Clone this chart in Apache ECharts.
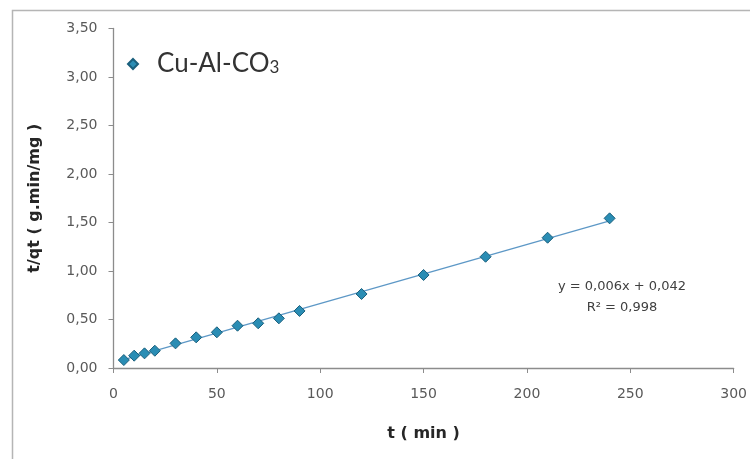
<!DOCTYPE html>
<html>
<head>
<meta charset="utf-8">
<script src="https://cdn.jsdelivr.net/npm/echarts@6/dist/echarts.min.js"></script>
<style>
  html, body { margin: 0; padding: 0; background: #fff; }
  #chart { width: 750px; height: 459px; }
</style>
</head>
<body>
<div id="chart"></div>
<script>
// Pseudo-second-order kinetics: t/qt versus contact time t
const seriesName = 'Cu-Al-CO';
const timeMin = [5, 10, 15, 20, 30, 40, 50, 60, 70, 80, 90, 120, 150, 180, 210, 240];
const tOverQt = [0.082, 0.127, 0.151, 0.178, 0.254, 0.316, 0.368, 0.436, 0.461, 0.512, 0.588, 0.763, 0.959, 1.147, 1.343, 1.543];
const xTicks = [0, 50, 100, 150, 200, 250, 300];
const yTicks = [0, 0.5, 1.0, 1.5, 2.0, 2.5, 3.0, 3.5];
const equationLines = ['y = 0,006x + 0,042', 'R² = 0,998'];

// least-squares trendline over the measured points
function linearFit(xs, ys) {
  const n = xs.length;
  let sx = 0, sy = 0, sxx = 0, sxy = 0;
  for (let i = 0; i < n; i++) { sx += xs[i]; sy += ys[i]; sxx += xs[i] * xs[i]; sxy += xs[i] * ys[i]; }
  const slope = (n * sxy - sx * sy) / (n * sxx - sx * sx);
  return { slope, intercept: (sy - slope * sx) / n };
}
const fit = linearFit(timeMin, tOverQt);
const tMin = Math.min(...timeMin), tMax = Math.max(...timeMin);
const trend = [[tMin, fit.intercept + fit.slope * tMin], [tMax, fit.intercept + fit.slope * tMax]];

const TICK_FONT = '"DejaVu Sans", sans-serif';
const chart = echarts.init(document.getElementById('chart'));
chart.setOption({
  animation: false,
  backgroundColor: '#fff',
  grid: { left: 113.5, right: 14, top: 28.5, bottom: 91, containLabel: false },
  xAxis: {
    type: 'value', min: xTicks[0], max: xTicks[xTicks.length - 1], interval: 50,
    name: 't ( min )', nameLocation: 'middle', nameGap: 58,
    nameTextStyle: { fontFamily: TICK_FONT, fontWeight: 'bold', fontSize: 16, color: '#262626' },
    axisLine: { lineStyle: { color: '#8c8c8c', width: 1.3 } },
    axisTick: { show: true, length: 5, lineStyle: { color: '#8c8c8c' } },
    axisLabel: { fontFamily: TICK_FONT, fontSize: 14, color: '#595959', margin: 19 },
    splitLine: { show: false }
  },
  yAxis: {
    type: 'value', min: yTicks[0], max: yTicks[yTicks.length - 1], interval: 0.5,
    name: 't/qt ( g.min/mg )', nameLocation: 'middle', nameGap: 71, nameRotate: 90,
    nameTextStyle: { fontFamily: TICK_FONT, fontWeight: 'bold', fontSize: 16, color: '#262626' },
    axisLine: { show: true, lineStyle: { color: '#8c8c8c', width: 1.3 } },
    axisTick: { show: true, length: 5, lineStyle: { color: '#8c8c8c' } },
    axisLabel: {
      fontFamily: TICK_FONT, fontSize: 14, color: '#595959', margin: 16,
      formatter: v => v.toFixed(2).replace('.', ',')
    },
    splitLine: { show: false }
  },
  legend: {
    left: 122, top: 46, itemWidth: 10, itemHeight: 10, itemGap: 10,
    data: [{ name: seriesName, icon: 'diamond' }],
    formatter: n => '{a|' + n + '}{s|3}',
    textStyle: {
      rich: {
        a: { fontFamily: 'Lato, sans-serif', fontSize: 26, color: '#333', padding: [0, 0, 0, 14] },
        s: { fontFamily: 'Lato, sans-serif', fontSize: 17, color: '#333', padding: [8, 0, 0, 0] }
      }
    }
  },
  series: [
    {
      name: 'trend', type: 'line', data: trend, symbol: 'none', silent: true,
      lineStyle: { color: '#5d98c6', width: 1.3 }, z: 1
    },
    {
      name: seriesName, type: 'scatter', symbol: 'diamond', symbolSize: 11,
      data: timeMin.map((t, i) => [t, tOverQt[i]]),
      itemStyle: { color: '#2a8db4', borderColor: '#1a5f7c', borderWidth: 1, opacity: 1 }, z: 3
    }
  ],
  graphic: [
    { type: 'rect', shape: { x: 12.5, y: 10.5, width: 900, height: 600 },
      style: { fill: 'none', stroke: '#b5b5b5', lineWidth: 1.5 }, silent: true },
    { type: 'text', x: 622, y: 276,
      style: { text: equationLines.join('\n'), fontFamily: TICK_FONT, fontSize: 13, fill: '#404040',
               align: 'center', verticalAlign: 'top', lineHeight: 21 } }
  ]
});
</script>
</body>
</html>
